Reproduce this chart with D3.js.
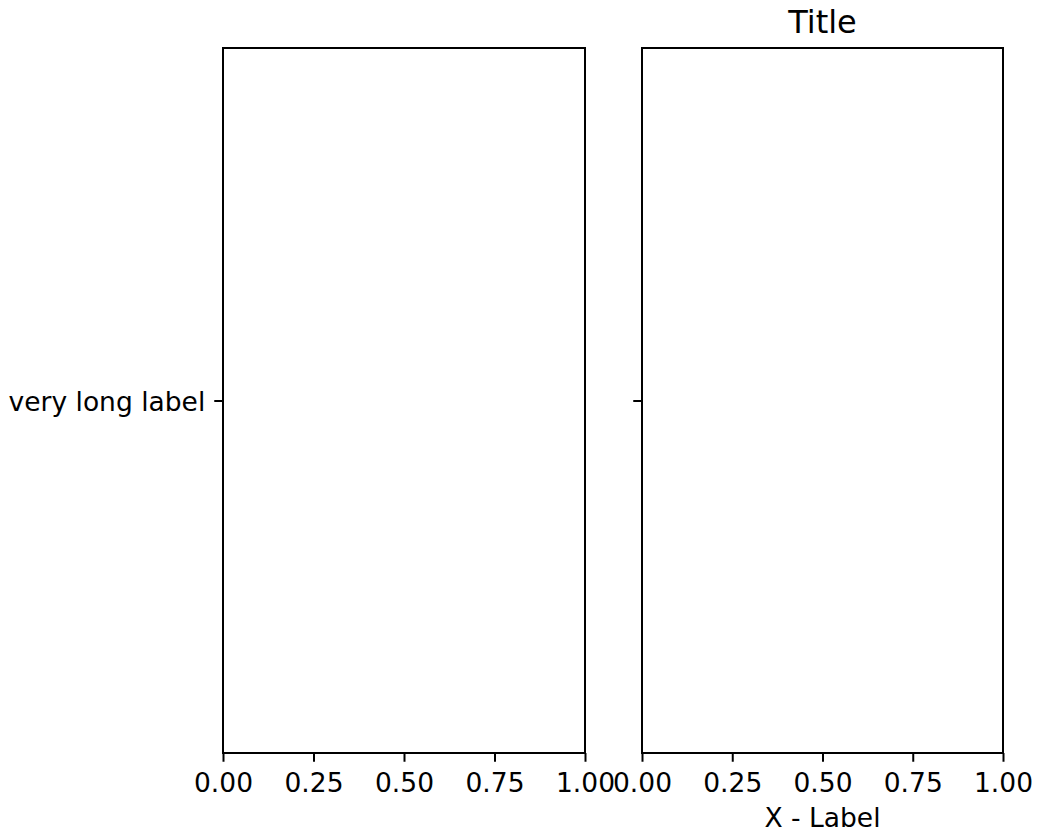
<!DOCTYPE html>
<html><head><meta charset="utf-8">
<script src="https://cdn.jsdelivr.net/npm/d3@7"></script>
<style>html,body{margin:0;padding:0;background:#fff;} svg{display:block;} text{font-family:"DejaVu Sans",sans-serif;fill:#000;}</style>
</head><body>
<script>
const xTicks = [0, 0.25, 0.5, 0.75, 1];
const yTicks = [0.5];
const yTickLabels = ["very long label"];
const titleText = "Title";
const xLabelText = "X - Label";

(function () {
const W = 1037, H = 833;
const svg = d3.select("body").append("svg").attr("width", W).attr("height", H);
svg.append("rect").attr("width", W).attr("height", H).attr("fill", "#fff");

const plotTop = 48, plotBottom = 753;
const fs = 26.5;
const panels = [{x0: 223, x1: 585, showY: true}, {x0: 642, x1: 1003, showY: false}];
const y = d3.scaleLinear().domain([0, 1]).range([plotBottom, plotTop]);

panels.forEach((p, i) => {
  const x = d3.scaleLinear().domain([0, 1]).range([p.x0, p.x1]);
  const g = svg.append("g");
  const xa = g.append("g").attr("transform", `translate(0,${plotBottom})`)
    .call(d3.axisBottom(x).tickValues(xTicks).tickFormat(d3.format(".2f")).tickSize(8.75).tickPadding(8));
  xa.select(".domain").remove();
  xa.selectAll("line").attr("stroke", "#000").attr("stroke-width", 2);
  xa.selectAll("text").attr("font-size", fs).attr("dy", null).attr("y", 39).attr("font-family", "DejaVu Sans");
  const ya = g.append("g").attr("transform", `translate(${p.x0},0)`)
    .call(d3.axisLeft(y).tickValues(yTicks).tickFormat((d, j) => p.showY ? yTickLabels[j] : "").tickSize(8.75).tickPadding(9));
  ya.select(".domain").remove();
  ya.selectAll("line").attr("stroke", "#000").attr("stroke-width", 2);
  ya.selectAll("text").attr("font-size", fs).attr("dy", null).attr("y", 9.5).attr("font-family", "DejaVu Sans");
  g.append("rect").attr("x", p.x0).attr("y", plotTop).attr("width", p.x1 - p.x0).attr("height", plotBottom - plotTop)
    .attr("fill", "none").attr("stroke", "#000").attr("stroke-width", 2);
  if (i === 1) {
    svg.append("text").attr("x", (p.x0 + p.x1) / 2).attr("y", 33).attr("text-anchor", "middle")
      .attr("font-size", 32).text(titleText);
    svg.append("text").attr("x", (p.x0 + p.x1) / 2).attr("y", 827).attr("text-anchor", "middle")
      .attr("font-size", fs).text(xLabelText);
  }
});
})();
</script>
</body></html>
